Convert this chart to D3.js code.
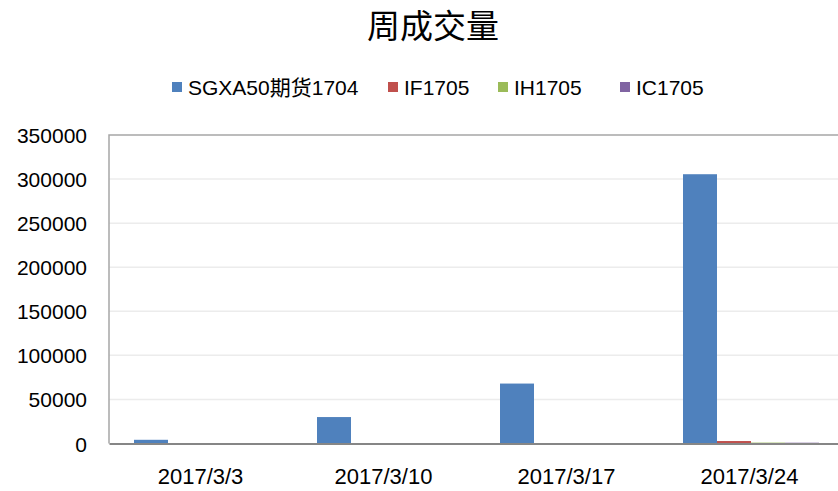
<!DOCTYPE html>
<html>
<head>
<meta charset="utf-8">
<script src="https://cdn.jsdelivr.net/npm/d3@7"></script>
<style>
  body { margin: 0; background: #fff; }
  svg { display: block; }
</style>
</head>
<body>
<div id="chart"></div>
<script>
// Chart data
var weeks = ['2017/3/3', '2017/3/10', '2017/3/17', '2017/3/24']
var seriesNames = ['SGXA50期货1704', 'IF1705', 'IH1705', 'IC1705']
var sgxa50 = [4200, 30000, 68000, 305500]
var if1705 = [0, 0, 0, 2800]
var ih1705 = [0, 0, 0, 1000]
var ic1705 = [0, 0, 0, 900]
var yTicks = [0, 50000, 100000, 150000, 200000, 250000, 300000, 350000]

var colors = ['#4f81bd', '#c0504d', '#9bbb59', '#8064a2']
var seriesValues = [sgxa50, if1705, ih1705, ic1705]

var width = 838
var height = 491
var plot = { left: 109, right: 841, top: 135, bottom: 443.5 }
var font = '"Liberation Sans", Arial, sans-serif'

var svg = d3.select('#chart')
  .append('svg')
  .attr('width', width)
  .attr('height', height)

// Scales
var x = d3.scaleBand()
  .domain(weeks)
  .range([plot.left, plot.right])

var groupPad = 25
var x1 = d3.scaleBand()
  .domain(seriesNames)
  .range([groupPad, groupPad + 136])

var y = d3.scaleLinear()
  .domain([0, 350000])
  .range([plot.bottom, plot.top])

// Gridlines
svg.append('g')
  .selectAll('line')
  .data(yTicks.slice(1, -1))
  .join('line')
  .attr('x1', plot.left)
  .attr('x2', plot.right)
  .attr('y1', d => y(d))
  .attr('y2', d => y(d))
  .attr('stroke', '#ececec')
  .attr('stroke-width', 1.5)

// Plot frame (top + left)
svg.append('path')
  .attr('d', `M${plot.left},${plot.bottom} V${y(350000)} H${plot.right}`)
  .attr('fill', 'none')
  .attr('stroke', '#a6a6a6')
  .attr('stroke-width', 1.5)

// Bars
var groups = svg.append('g')
  .selectAll('g')
  .data(weeks)
  .join('g')
  .attr('transform', d => `translate(${x(d)},0)`)

groups.selectAll('rect')
  .data((w, i) => seriesNames.map((s, j) => ({ s: s, v: seriesValues[j][i], c: colors[j] })))
  .join('rect')
  .attr('x', d => x1(d.s))
  .attr('width', x1.bandwidth())
  .attr('y', d => y(d.v))
  .attr('height', d => y(0) - y(d.v))
  .attr('fill', d => d.c)

// Y axis labels
var yAxis = d3.axisLeft(y).tickValues(yTicks).tickFormat(d3.format('d')).tickSize(0).tickPadding(22)
svg.append('g')
  .attr('transform', `translate(${plot.left},0)`)
  .call(yAxis)
  .call(g => g.select('.domain').remove())
  .selectAll('text')
  .attr('font-family', font)
  .attr('font-size', 21)
  .attr('fill', '#000')
  .attr('dy', '0.36em')

// X axis
var xAxis = d3.axisBottom(x).tickSize(0).tickPadding(25)
svg.append('g')
  .attr('transform', `translate(0,${plot.bottom})`)
  .call(xAxis)
  .call(g => g.select('.domain').attr('stroke', '#868686').attr('stroke-width', 2))
  .selectAll('text')
  .attr('font-family', font)
  .attr('font-size', 22)
  .attr('fill', '#000')

// Title
svg.append('text')
  .text('周成交量')
  .attr('x', 433)
  .attr('y', 38)
  .attr('text-anchor', 'middle')
  .attr('font-family', '"Noto Sans CJK SC", sans-serif')
  .attr('font-weight', 400)
  .attr('font-size', 33)
  .attr('fill', '#000')

// Legend
var legendX = [172, 388, 498, 620]
var legend = svg.append('g')
  .selectAll('g')
  .data(seriesNames)
  .join('g')
  .attr('transform', (d, i) => `translate(${legendX[i]},87)`)

legend.append('rect')
  .attr('x', 0)
  .attr('y', -5)
  .attr('width', 10)
  .attr('height', 10)
  .attr('fill', (d, i) => colors[i])

legend.append('text')
  .text(d => d)
  .attr('x', 16)
  .attr('y', 0)
  .attr('dy', '0.36em')
  .attr('font-family', font + ', "Noto Sans CJK SC"')
  .attr('font-size', 21)
  .attr('fill', '#000')
</script>
</body>
</html>
